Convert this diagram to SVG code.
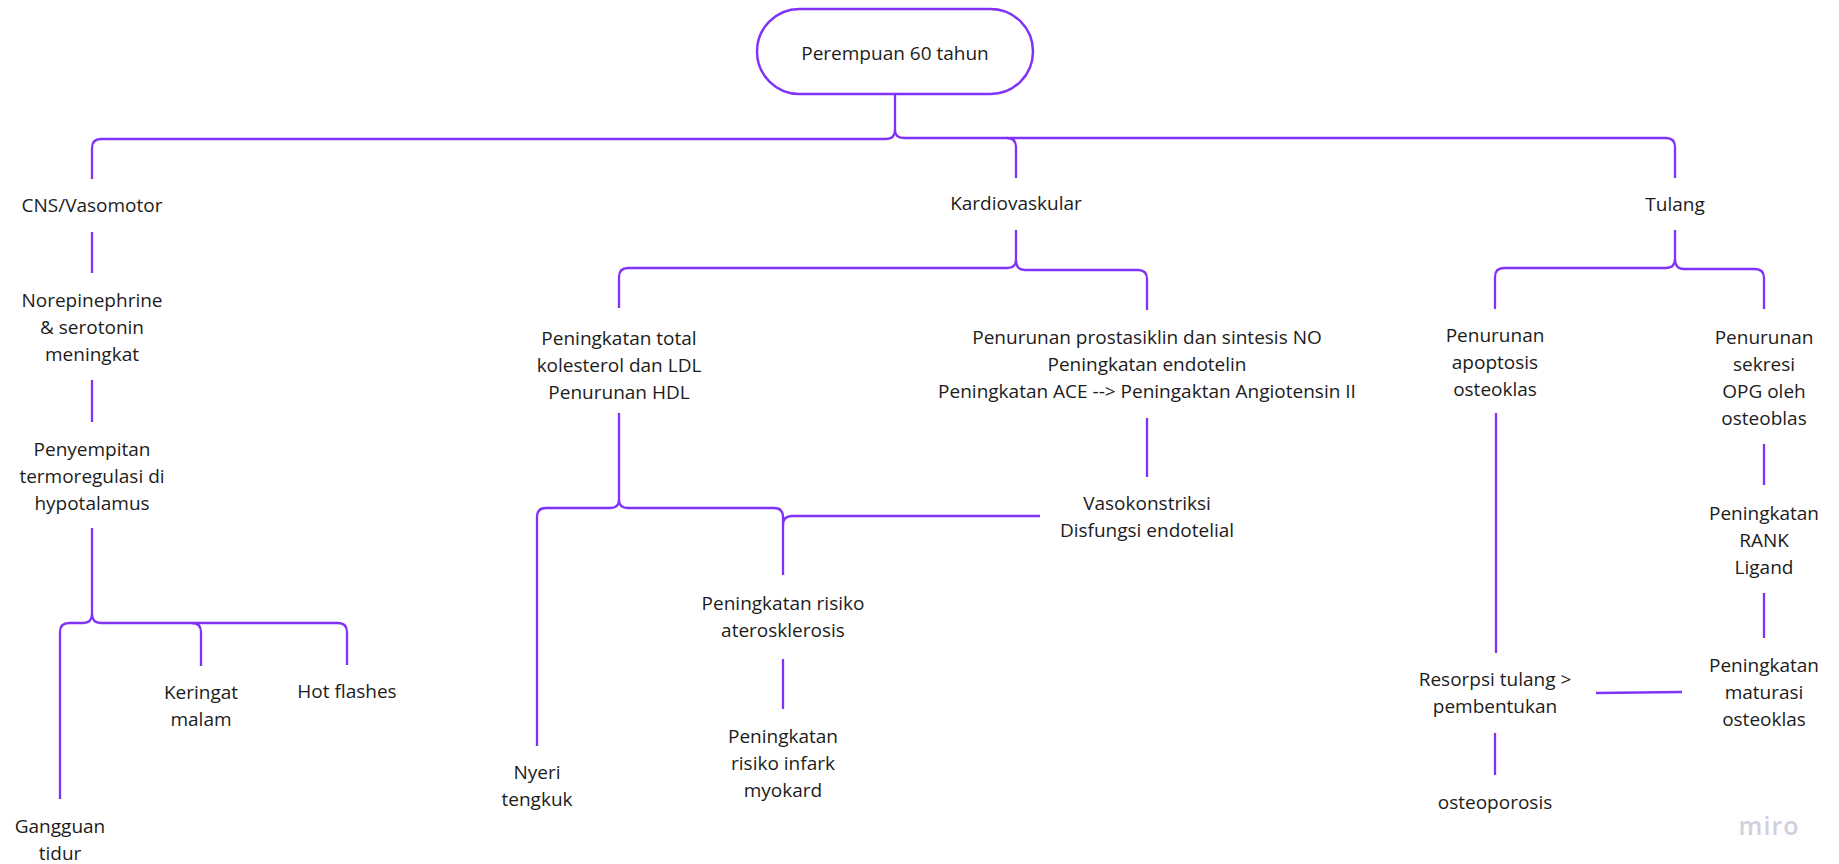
<svg xmlns="http://www.w3.org/2000/svg" width="1839" height="864" viewBox="0 0 1839 864">
<style>
.c{fill:none;stroke:#8132f8;stroke-width:2.3;stroke-linecap:butt;stroke-linejoin:round}
.t{font-family:"Open Sans","Noto Sans",sans-serif;font-size:19px;fill:#1c1c1c;text-anchor:middle}
.logo{font-family:"Open Sans","Noto Sans",sans-serif;font-size:25px;font-weight:600;fill:#d0d0e0;text-anchor:middle;letter-spacing:1px}
</style>
<rect width="1839" height="864" fill="#fff"/>
<g id="connectors">
<path class="c" d="M895,94 V130 Q895,139 886,139 H101 Q92,139 92,148 V179"/>
<path class="c" d="M895,130 Q895,138 904,138 H1666 Q1675,138 1675,147 V178"/>
<path class="c" d="M1007,138 Q1016,138 1016,147 V178"/>
<path class="c" d="M92,232 V273"/>
<path class="c" d="M92,380 V422"/>
<path class="c" d="M92,528 V614 Q92,623 83,623 H69 Q60,623 60,632 V799"/>
<path class="c" d="M92,614 Q92,623 101,623 H338 Q347,623 347,632 V665"/>
<path class="c" d="M192,623 Q201,623 201,632 V666"/>
<path class="c" d="M1016,230 V260 Q1016,268 1007,268 H628 Q619,268 619,277 V308"/>
<path class="c" d="M1016,260 Q1016,270 1025,270 H1138 Q1147,270 1147,279 V310"/>
<path class="c" d="M1147,418 V477"/>
<path class="c" d="M619,413 V500 Q619,508 610,508 H546 Q537,508 537,517 V746"/>
<path class="c" d="M619,500 Q619,508 628,508 H774 Q783,508 783,517 V575"/>
<path class="c" d="M1040,516 H792 Q783,516 783,525"/>
<path class="c" d="M783,659 V709"/>
<path class="c" d="M1675,230 V259 Q1675,268 1666,268 H1504 Q1495,268 1495,277 V309"/>
<path class="c" d="M1675,259 Q1675,269 1684,269 H1755 Q1764,269 1764,278 V309"/>
<path class="c" d="M1764,444 V485"/>
<path class="c" d="M1764,593 V638"/>
<path class="c" d="M1496,413 V653"/>
<path class="c" d="M1596,693 L1682,692"/>
<path class="c" d="M1495,733 V775"/>
</g>
<g id="root"><rect x="757" y="9" width="276" height="85" rx="42.5" fill="#fff" stroke="#8132f8" stroke-width="2.5"/><text class="t" x="895" y="60">Perempuan 60 tahun</text></g>
<g id="cns"><text class="t" x="92" y="212">CNS/Vasomotor</text></g>
<g id="kardio"><text class="t" x="1016" y="210">Kardiovaskular</text></g>
<g id="tulang"><text class="t" x="1675" y="211">Tulang</text></g>
<g id="norepi"><text class="t" x="92" y="307">Norepinephrine<tspan x="92" dy="27">&amp; serotonin</tspan><tspan x="92" dy="27">meningkat</tspan></text></g>
<g id="penyempitan"><text class="t" x="92" y="456">Penyempitan<tspan x="92" dy="27">termoregulasi di</tspan><tspan x="92" dy="27">hypotalamus</tspan></text></g>
<g id="gangguan"><text class="t" x="60" y="833">Gangguan<tspan x="60" dy="27">tidur</tspan></text></g>
<g id="keringat"><text class="t" x="201" y="699">Keringat<tspan x="201" dy="27">malam</tspan></text></g>
<g id="hotflashes"><text class="t" x="347" y="698">Hot flashes</text></g>
<g id="kolesterol"><text class="t" x="619" y="345">Peningkatan total<tspan x="619" dy="27">kolesterol dan LDL</tspan><tspan x="619" dy="27">Penurunan HDL</tspan></text></g>
<g id="prostasiklin"><text class="t" x="1147" y="344">Penurunan prostasiklin dan sintesis NO<tspan x="1147" dy="27">Peningkatan endotelin</tspan><tspan x="1147" dy="27">Peningkatan ACE --&gt; Peningaktan Angiotensin II</tspan></text></g>
<g id="vaso"><text class="t" x="1147" y="510">Vasokonstriksi<tspan x="1147" dy="27">Disfungsi endotelial</tspan></text></g>
<g id="nyeri"><text class="t" x="537" y="779">Nyeri<tspan x="537" dy="27">tengkuk</tspan></text></g>
<g id="ateros"><text class="t" x="783" y="610">Peningkatan risiko<tspan x="783" dy="27">aterosklerosis</tspan></text></g>
<g id="infark"><text class="t" x="783" y="743">Peningkatan<tspan x="783" dy="27">risiko infark</tspan><tspan x="783" dy="27">myokard</tspan></text></g>
<g id="apoptosis"><text class="t" x="1495" y="342">Penurunan<tspan x="1495" dy="27">apoptosis</tspan><tspan x="1495" dy="27">osteoklas</tspan></text></g>
<g id="opg"><text class="t" x="1764" y="344">Penurunan<tspan x="1764" dy="27">sekresi</tspan><tspan x="1764" dy="27">OPG oleh</tspan><tspan x="1764" dy="27">osteoblas</tspan></text></g>
<g id="rank"><text class="t" x="1764" y="520">Peningkatan<tspan x="1764" dy="27">RANK</tspan><tspan x="1764" dy="27">Ligand</tspan></text></g>
<g id="maturasi"><text class="t" x="1764" y="672">Peningkatan<tspan x="1764" dy="27">maturasi</tspan><tspan x="1764" dy="27">osteoklas</tspan></text></g>
<g id="resorpsi"><text class="t" x="1495" y="686">Resorpsi tulang &gt;<tspan x="1495" dy="27">pembentukan</tspan></text></g>
<g id="osteoporosis"><text class="t" x="1495" y="809">osteoporosis</text></g>
<text class="logo" x="1769" y="835">miro</text>
</svg>
